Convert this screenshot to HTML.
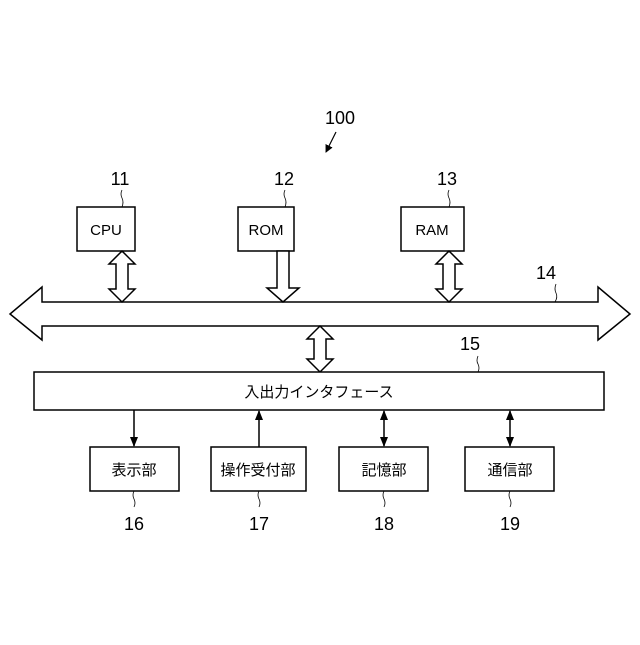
<!DOCTYPE html>
<html><head><meta charset="utf-8"><style>
body{margin:0;background:#fff}
text{font-family:"Liberation Sans","Noto Sans CJK JP",sans-serif;fill:#000}
</style></head><body>
<svg width="640" height="640" viewBox="0 0 640 640" xmlns="http://www.w3.org/2000/svg">
<defs><marker id="ah" markerWidth="8" markerHeight="8" refX="7" refY="4" orient="auto" markerUnits="userSpaceOnUse"><path d="M0,0 L8,4 L0,8z" fill="#000"/></marker>
<marker id="as" markerWidth="10" markerHeight="10" refX="9" refY="5" orient="auto-start-reverse" markerUnits="userSpaceOnUse"><path d="M0,1 L10,5 L0,9z" fill="#000"/></marker></defs>
<g stroke="#000" stroke-width="1.5" fill="#fff">
<!-- 100 arrow -->
<path d="M336,132 L326,152" fill="none" stroke-width="1.2" marker-end="url(#ah)"/>
<!-- top boxes -->
<rect x="77" y="207" width="58" height="44"/>
<rect x="238" y="207" width="56" height="44"/>
<rect x="401" y="207" width="63" height="44"/>
<!-- bus -->
<path d="M42,287 L42,302 L598,302 L598,287 L630,314 L598,340 L598,326 L42,326 L42,340 L10,314 Z"/>
<!-- CPU double arrow -->
<path d="M122,251 L135,264 L128,264 L128,289 L135,289 L122,302 L109,289 L116,289 L116,264 L109,264 Z"/>
<!-- ROM down arrow -->
<path d="M277,251 L289,251 L289,288 L299,288 L283,302 L267,288 L277,288 Z"/>
<!-- RAM double -->
<path d="M449,251 L462,264 L455,264 L455,289 L462,289 L449,302 L436,289 L443,289 L443,264 L436,264 Z"/>
<!-- bus-IF double -->
<path d="M320,326 L333,339 L326,339 L326,359 L333,359 L320,372 L307,359 L314,359 L314,339 L307,339 Z"/>
<!-- IF box -->
<rect x="34" y="372" width="570" height="38"/>
<!-- bottom boxes -->
<rect x="90" y="447" width="89" height="44"/>
<rect x="211" y="447" width="95" height="44"/>
<rect x="339" y="447" width="89" height="44"/>
<rect x="465" y="447" width="89" height="44"/>
</g>
<g stroke="#000" stroke-width="1.5" fill="none">
<line x1="134" y1="410" x2="134" y2="446" marker-end="url(#as)"/>
<line x1="259" y1="447" x2="259" y2="411" marker-end="url(#as)"/>
<line x1="384" y1="411" x2="384" y2="446" marker-start="url(#as)" marker-end="url(#as)"/>
<line x1="510" y1="411" x2="510" y2="446" marker-start="url(#as)" marker-end="url(#as)"/>
</g>
<g stroke="#000" stroke-width="0.8" fill="none">
<path d="M122,190 q-2,4 0,8 q2,4 0,9"/>
<path d="M285,190 q-2,4 0,8 q2,4 0,9"/>
<path d="M449,190 q-2,4 0,8 q2,4 0,9"/>
<path d="M556,284 q-2,5 0,9 q2,4 -1,9"/>
<path d="M478,356 q-2,5 0,8 q2,4 0,8"/>
<path d="M134,491 q-2,4 0,8 q2,4 0,8"/>
<path d="M259,491 q-2,4 0,8 q2,4 0,8"/>
<path d="M384,491 q-2,4 0,8 q2,4 0,8"/>
<path d="M510,491 q-2,4 0,8 q2,4 0,8"/>
</g>
<g font-size="18" text-anchor="middle">
<text x="340" y="124">100</text>
<text x="120" y="185">11</text>
<text x="284" y="185">12</text>
<text x="447" y="185">13</text>
<text x="546" y="279">14</text>
<text x="470" y="350">15</text>
<text x="134" y="530">16</text>
<text x="259" y="530">17</text>
<text x="384" y="530">18</text>
<text x="510" y="530">19</text>
</g>
<g font-size="15" text-anchor="middle">
<text x="106" y="235">CPU</text>
<text x="266" y="235">ROM</text>
<text x="432" y="235">RAM</text>
<text x="319" y="397">入出力インタフェース</text>
<text x="134" y="475">表示部</text>
<text x="258" y="475">操作受付部</text>
<text x="384" y="475">記憶部</text>
<text x="510" y="475">通信部</text>
</g>
</svg>
</body></html>
